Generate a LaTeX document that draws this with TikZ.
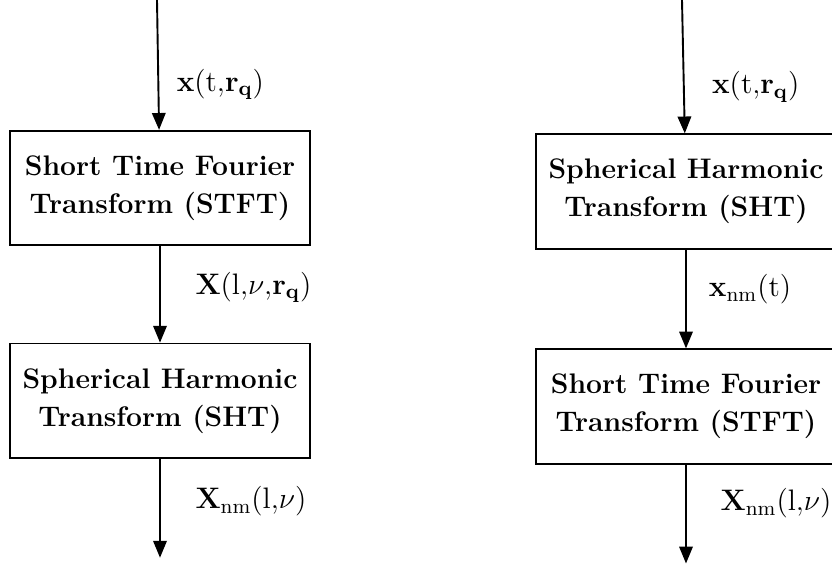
\RequirePackage{fix-cm}
\documentclass[tikz,border=0pt]{standalone}
\usepackage{amsmath}
\usetikzlibrary{arrows.meta,positioning}
\tikzset{%
    block/.style = {draw, line width=0.8pt, rectangle, align=center,
        minimum width=134pt, minimum height=51pt,
        font=\fontsize{12.6}{17}\selectfont\bfseries},
    lbl/.style   = {anchor=west, inner sep=0pt, font=\fontsize{13.2}{15}\selectfont},
}

\begin{document}
\begin{tikzpicture}[auto, node distance=43pt, line width=0.85pt,
    >={Triangle[length=7.5pt,width=6pt]}, x=0.4455pt, y=-0.4455pt]
    \useasboundingbox (0,0) rectangle (832,563);
    \clip (0,0) rectangle (832,563);

    % left chain: STFT first, then SHT
    \coordinate (in_l) at (157,0);
    \node [block] (stft_l) at (160,188) {Short Time Fourier\\Transform (STFT)};
    \node [block, below=43pt of stft_l] (sht_l) {Spherical Harmonic\\Transform (SHT)};
    \coordinate [below=44pt of sht_l] (out_l);

    % right chain: SHT first, then STFT
    \coordinate (in_r) at (682,0);
    \node [block] (sht_r) at (686,191.5) {Spherical Harmonic\\Transform (SHT)};
    \node [block, below=44pt of sht_r] (stft_r) {Short Time Fourier\\Transform (STFT)};
    \coordinate [below=44pt of stft_r] (out_r);

    \draw [->] (in_l) -- node [lbl, pos=0.65, xshift=7.8pt]
        {$\mathbf{x}(\mathrm{t}{,}\mathbf{r}_{\mathbf{q}})$} (stft_l);
    \draw [->] (stft_l) -- node [lbl, pos=0.43, xshift=15.4pt]
        {$\mathbf{X}(\mathrm{l}{,}\nu{,}\mathbf{r}_{\mathbf{q}})$} (sht_l);
    \draw [->] (sht_l) -- node [lbl, pos=0.43, xshift=15.4pt]
        {$\mathbf{X}_{\mathrm{nm}}(\mathrm{l}{,}\nu)$} (out_l);

    \draw [->] (in_r) -- node [lbl, pos=0.65, xshift=12.2pt]
        {$\mathbf{x}(\mathrm{t}{,}\mathbf{r}_{\mathbf{q}})$} (sht_r);
    \draw [->] (sht_r) -- node [lbl, pos=0.4, xshift=9.8pt]
        {$\mathbf{x}_{\mathrm{nm}}(\mathrm{t})$} (stft_r);
    \draw [->] (stft_r) -- node [lbl, pos=0.39, xshift=15pt]
        {$\mathbf{X}_{\mathrm{nm}}(\mathrm{l}{,}\nu)$} (out_r);

\end{tikzpicture}
\end{document}
